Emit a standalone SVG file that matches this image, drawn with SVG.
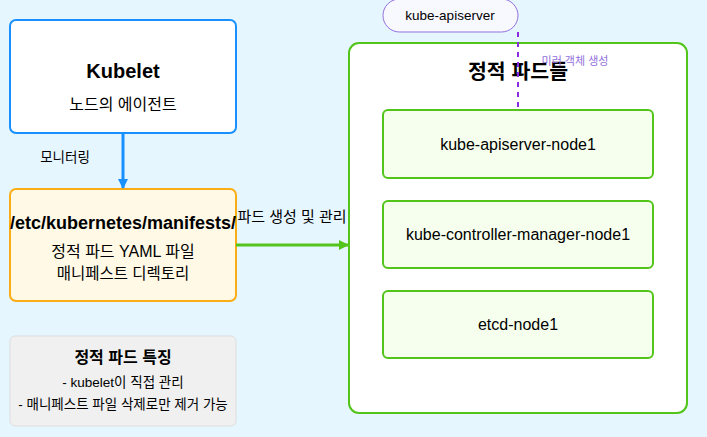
<svg xmlns="http://www.w3.org/2000/svg" width="707" height="437" viewBox="0 0 707 437">
<defs>
<style>
text{font-family:"Liberation Sans","Noto Sans CJK KR",Arial,sans-serif;fill:#000;text-anchor:middle}
.t{font-size:16px}
.b{font-weight:bold}
.s{font-size:13.5px}
.pod{fill:#f6ffed;stroke:#52c41a;stroke-width:2}
</style>
<marker id="ab" markerWidth="10" markerHeight="10" refX="9" refY="5" orient="auto" markerUnits="userSpaceOnUse"><path d="M0,0 L10,5 L0,10 z" fill="#1890ff"/></marker>
<marker id="ag" markerWidth="10" markerHeight="10" refX="9" refY="5" orient="auto" markerUnits="userSpaceOnUse"><path d="M0,0 L10,5 L0,10 z" fill="#52c41a"/></marker>
</defs>
<rect width="707" height="437" fill="#e6f6ff"/>
<g id="static-pods">
<rect x="349" y="43" width="338" height="370" rx="10" fill="#fff" stroke="#52c41a" stroke-width="2"/>
<text x="518" y="79" class="b" style="font-size:20.5px">정적 파드들</text>
</g>
<g id="pod-apiserver"><rect class="pod" x="383" y="110" width="270" height="68" rx="5"/><text x="518" y="150" class="t">kube-apiserver-node1</text></g>
<g id="pod-cm"><rect class="pod" x="383" y="201" width="270" height="67" rx="5"/><text x="518" y="240" class="t">kube-controller-manager-node1</text></g>
<g id="pod-etcd"><rect class="pod" x="383" y="291" width="270" height="67" rx="5"/><text x="518" y="330" class="t">etcd-node1</text></g>
<g id="kubelet">
<rect x="10" y="20" width="226" height="113" rx="6" fill="#fff" stroke="#1890ff" stroke-width="2"/>
<text x="123" y="78" class="b" style="font-size:20px">Kubelet</text>
<text x="123" y="110" class="t">노드의 에이전트</text>
</g>
<g id="manifests">
<rect x="10" y="189" width="226" height="112" rx="6" fill="#fff9e6" stroke="#faad14" stroke-width="2"/>
<text x="123" y="229" class="b" style="font-size:18px">/etc/kubernetes/manifests/</text>
<text x="123" y="257" class="t">정적 파드 YAML 파일</text>
<text x="123" y="279" style="font-size:15.5px">매니페스트 디렉토리</text>
</g>
<g id="apiserver">
<rect x="383" y="-1" width="135" height="33" rx="16.5" fill="#f8f8ff" stroke="#9370db" stroke-width="1"/>
<text x="450" y="20" class="s">kube-apiserver</text>
</g>
<g id="features">
<rect x="10" y="336" width="226" height="90" rx="5" fill="#f0f0f0" stroke="#ddd" stroke-width="1"/>
<text x="123" y="363" class="b t">정적 파드 특징</text>
<text x="123" y="387" class="s">- kubelet이 직접 관리</text>
<text x="123" y="409" class="s">- 매니페스트 파일 삭제로만 제거 가능</text>
</g>
<g id="connectors">
<line x1="123" y1="133" x2="123" y2="188" stroke="#1890ff" stroke-width="3" marker-end="url(#ab)"/>
<text x="65" y="162" class="s">모니터링</text>
<line x1="236" y1="245" x2="348" y2="245" stroke="#52c41a" stroke-width="3" marker-end="url(#ag)"/>
<text x="292" y="222" style="font-size:15px">파드 생성 및 관리</text>
<line x1="518" y1="32" x2="518" y2="110" stroke="#8a2be2" stroke-width="2" stroke-dasharray="5,5"/>
<text x="575" y="65" style="font-size:11px;fill:#9370db">미러 객체 생성</text>
</g>
</svg>
